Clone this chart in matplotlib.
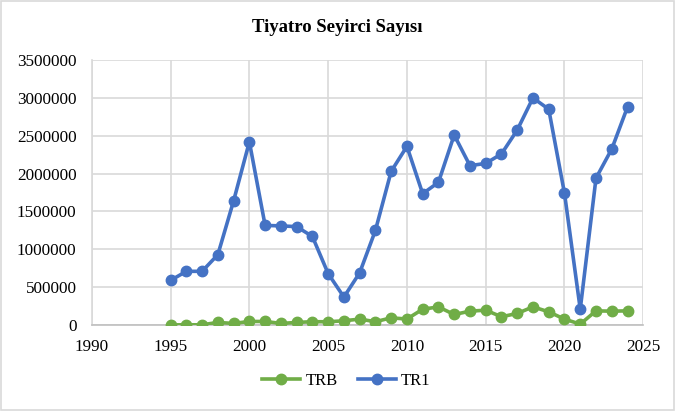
import matplotlib.pyplot as plt
from matplotlib.patches import Rectangle

years = list(range(1995, 2025))

tr1 = [590000, 710000, 710000, 930000, 1640000, 2420000, 1316000, 1310000, 1300000, 1170000,
       680000, 370000, 690000, 1250000, 2030000, 2360000, 1735000, 1885000, 2510000, 2105000,
       2135000, 2260000, 2575000, 3000000, 2850000, 1740000, 210000, 1940000, 2325000, 2880000]

trb = [3000, 4000, 4000, 35000, 22000, 48000, 48000, 22000, 35000, 45000,
       44000, 57000, 79000, 45000, 96000, 80000, 210000, 240000, 140000, 184000,
       197000, 110000, 154000, 241000, 175000, 79000, 13000, 188000, 184000, 188000]

plt.rcParams['font.family'] = ['Liberation Serif', 'DejaVu Serif']

fig = plt.figure(figsize=(6.75, 4.11), dpi=100)
ax = fig.add_axes([0.136, 0.209, 0.817, 0.645])

green = '#70AD47'
blue = '#4472C4'
ax.plot(years, trb, color=green, lw=2.6, marker='o', markersize=7.5, label='TRB', zorder=3)
ax.plot(years, tr1, color=blue, lw=2.6, marker='o', markersize=7.5, label='TR1', zorder=3)

ax.set_xlim(1990, 2025)
ax.set_ylim(0, 3500000)
ax.set_xticks(range(1990, 2026, 5))
ax.set_yticks(range(0, 3500001, 500000))
ax.ticklabel_format(style='plain', axis='y')
ax.grid(True, color='#D9D9D9', lw=1.2, zorder=0)
ax.set_axisbelow(True)
for s in ['top', 'right']:
    ax.spines[s].set_visible(False)
ax.spines['left'].set_color('#D9D9D9')
ax.spines['bottom'].set_color('#BFBFBF')
ax.spines['left'].set_linewidth(1.2)
ax.spines['bottom'].set_linewidth(1.2)
ax.tick_params(length=0, labelsize=12.3, colors='#000000')
ax.tick_params(axis='x', pad=10)
ax.tick_params(axis='y', pad=11)

fig.text(0.5, 0.932, 'Tiyatro Seyirci Sayısı', ha='center', va='center',
         fontsize=13.5, fontweight='bold')

fig.legend(loc='center', bbox_to_anchor=(0.513, 0.073), ncol=2, frameon=False,
           fontsize=12, handlelength=2.3, columnspacing=1.2, handletextpad=0.3)

fig.patches.append(Rectangle((0.002, 0.002), 0.996, 0.996, transform=fig.transFigure,
                             fill=False, edgecolor='#D9D9D9', lw=1.2))

fig.savefig('out.png', dpi=100)
